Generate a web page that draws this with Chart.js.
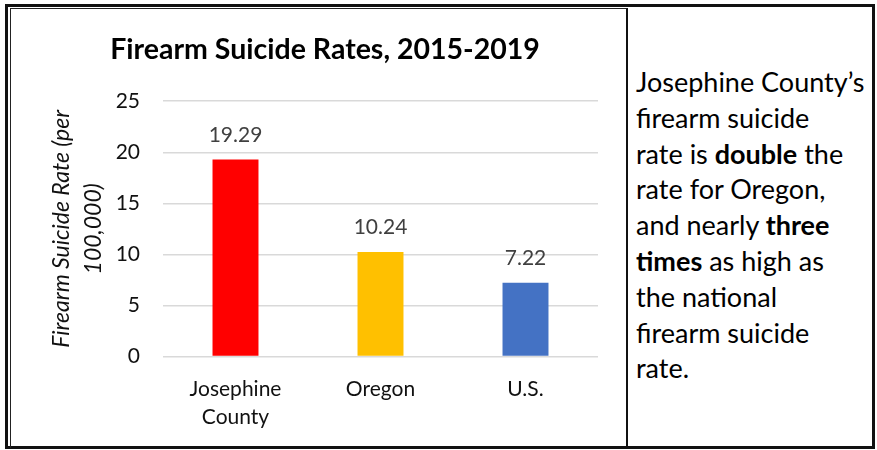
<!DOCTYPE html>
<html lang="en">
<head>
<meta charset="UTF-8">
<title>Firearm Suicide Rates</title>
<script src="https://cdn.jsdelivr.net/npm/chart.js"></script>
<style>
  body { margin: 0; width: 877px; height: 450px; background: #fff; position: relative; overflow: hidden; }
  .outer { position: absolute; left: 5px; top: 4px; width: 870px; height: 445px; box-sizing: border-box; border: 3px solid #111; }
  .chartbox { position: absolute; left: 10px; top: 8px; width: 618px; height: 440px; box-sizing: border-box;
              border-left: 1.5px solid #222; border-top: 1.5px solid #222; border-right: 2px solid #111; }
  .wrap { position: absolute; left: 12px; top: 10px; width: 614px; height: 436px; }
  .note { position: absolute; left: 636px; top: 64px; font-family: Lato, sans-serif; font-size: 27px;
          line-height: 35.8px; color: #000; white-space: nowrap; }
</style>
</head>
<body>
<div class="outer"></div>
<div class="chartbox"></div>
<div class="wrap"><canvas id="myChart"></canvas></div>
<div class="note">
  Josephine County’s<br>
  firearm suicide<br>
  rate is <b>double</b> the<br>
  rate for Oregon,<br>
  and nearly <b>three</b><br>
  <b>times</b> as high as<br>
  the national<br>
  firearm suicide<br>
  rate.
</div>
<script>
  const categories = [['Josephine', 'County'], 'Oregon', 'U.S.'];
  const rates = [19.29, 10.24, 7.22];
  const barColors = ['#FF0000', '#FFC000', '#4472C4'];
  const yTicks = [0, 5, 10, 15, 20, 25];

  // value labels above each bar
  const valueLabels = {
    id: 'valueLabels',
    afterDatasetsDraw(chart) {
      const ctx = chart.ctx;
      const meta = chart.getDatasetMeta(0);
      ctx.save();
      ctx.font = '21px Lato, sans-serif';
      ctx.fillStyle = '#404040';
      ctx.textAlign = 'center';
      ctx.textBaseline = 'alphabetic';
      meta.data.forEach((bar, i) => {
        ctx.fillText(rates[i].toFixed(2), bar.x, bar.y - 18);
      });
      ctx.restore();
    }
  };

  const data = {
    labels: categories,
    datasets: [{
      data: rates,
      backgroundColor: barColors,
      borderWidth: 0,
      categoryPercentage: 1,
      barPercentage: 0.317
    }]
  };

  const config = {
    type: 'bar',
    data: data,
    plugins: [valueLabels],
    options: {
      responsive: true,
      maintainAspectRatio: false,
      animation: false,
      layout: { padding: { left: 40, right: 28, top: 0, bottom: 0 } },
      plugins: {
        legend: { display: false },
        tooltip: { enabled: false },
        title: {
          display: true,
          text: 'Firearm Suicide Rates, 2015-2019',
          color: '#000',
          font: { family: 'Lato, sans-serif', size: 28.5, weight: 'bold', lineHeight: 1.2 },
          padding: { top: 23, bottom: 34 }
        }
      },
      scales: {
        x: {
          grid: { display: false },
          border: { display: false },
          ticks: {
            color: '#111',
            padding: 11,
            font: { family: 'Lato, sans-serif', size: 21, lineHeight: 1.33 }
          },
          afterFit(scale) { scale.height = 89.5; }
        },
        y: {
          min: 0,
          max: 25,
          afterBuildTicks(scale) { scale.ticks = yTicks.map(v => ({ value: v })); },
          grid: { color: '#D9D9D9', lineWidth: 1.5, drawTicks: false },
          border: { display: false },
          ticks: {
            color: '#111',
            padding: 23,
            font: { family: 'Lato, sans-serif', size: 21 }
          },
          title: {
            display: true,
            text: ['Firearm Suicide Rate (per', '100,000)'],
            color: '#111',
            font: { family: 'Lato, sans-serif', size: 23, style: 'italic', lineHeight: 1.37 },
            padding: { top: -6, bottom: 0 }
          },
          afterFit(scale) { scale.width = 111; }
        }
      }
    }
  };

  const myChart = new Chart(document.querySelector('#myChart'), config);
</script>
</body>
</html>
